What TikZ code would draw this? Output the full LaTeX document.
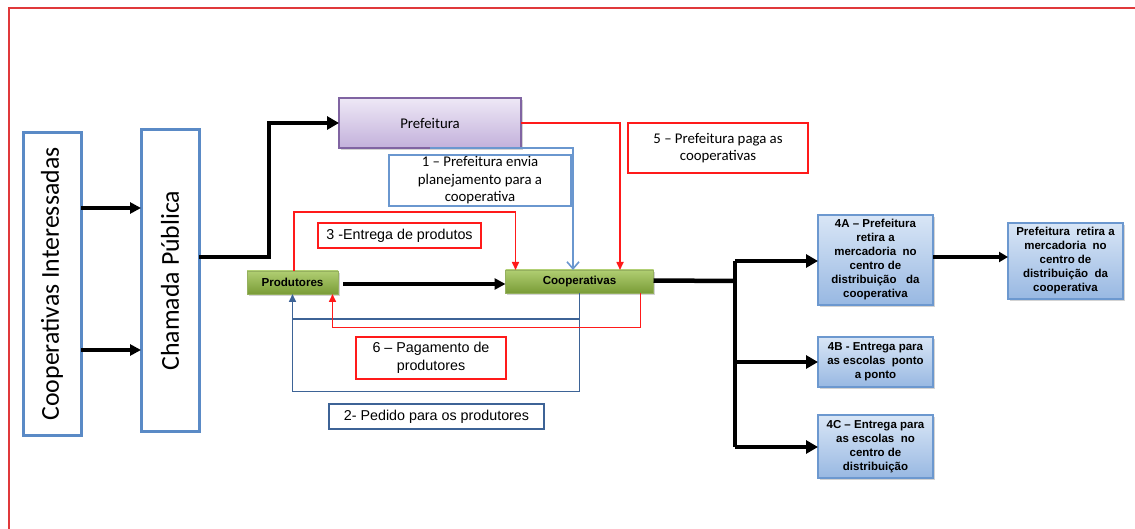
\documentclass[tikz,border=0pt]{standalone}
\usepackage{fontspec}
\newfontfamily\fcal{Carlito}
\newfontfamily\fari{Liberation Sans}
\usetikzlibrary{arrows.meta,calc,shadows}
\definecolor{frameR}{HTML}{E0393B}
\definecolor{boxB}{HTML}{5A8AC6}
\definecolor{lblB}{HTML}{6A97CF}
\definecolor{darkB}{HTML}{3D6396}
\definecolor{redL}{HTML}{FF1A1A}
\definecolor{purB}{HTML}{8064A2}
\definecolor{purT}{HTML}{EEE8F6}
\definecolor{purD}{HTML}{C3B1DB}
\definecolor{grT}{HTML}{B0CE72}
\definecolor{grD}{HTML}{7A9C37}
\definecolor{blT}{HTML}{D9E6F6}
\definecolor{blD}{HTML}{98B8E2}
\definecolor{blBd}{HTML}{6C98CF}
\begin{document}
\begin{tikzpicture}[x=1pt,y=-1pt,
  every node/.style={inner sep=0pt, outer sep=0pt},
  bigbox/.style={draw=boxB, line width=3, fill=white},
  redlbl/.style={draw=redL, line width=1.3, fill=white, font=\fari\fontsize{14.3}{18}\selectfont, align=center},
  calred/.style={draw=redL, line width=1.3, fill=white, font=\fcal\fontsize{14.8}{17}\selectfont, align=center},
  blulbl/.style={draw=lblB, line width=1.3, fill=white, font=\fcal\fontsize{14.8}{17.5}\selectfont, align=center},
  dblulbl/.style={draw=darkB, line width=1.3, fill=white, font=\fari\fontsize{14.3}{17}\selectfont, align=center},
  purbox/.style={draw=purB, line width=1.2, top color=purT, bottom color=purD, font=\fcal\fontsize{14.8}{16}\selectfont, drop shadow={shadow xshift=1.5pt, shadow yshift=-2pt, opacity=0.35}},
  grbox/.style={draw=grD!80!white, line width=0.6, top color=grT, bottom color=grD, font=\fari\bfseries\fontsize{11.6}{13}\selectfont, drop shadow={shadow xshift=1.5pt, shadow yshift=-2.5pt, opacity=0.35}},
  blbox/.style={draw=blBd, line width=1.2, top color=blT, bottom color=blD, align=center, font=\fari\bfseries\fontsize{11.5}{14}\selectfont, drop shadow={shadow xshift=1.5pt, shadow yshift=-2pt, opacity=0.35}},
  bigarr/.style={line width=4.5, -{Triangle[length=12pt,width=13pt]}},
  medarr/.style={line width=3.5, -{Triangle[length=11pt,width=11pt]}},
  smarr/.style={line width=3.2, -{Triangle[length=9pt,width=10pt]}},
  redarr/.style={draw=redL, line width=1.6, -{Triangle[length=8pt,width=7pt]}},
  bluarr/.style={draw=lblB, line width=1.6, -{Straight Barb[length=7pt,width=12pt]}},
  dbluarr/.style={draw=darkB, line width=1.6, -{Triangle[length=8pt,width=7pt]}},
]
\useasboundingbox (0,0) rectangle (1135,529);
\draw[frameR, line width=1.3] (1140,8) -- (9,8) -- (9,540);

% left boxes
\node[bigbox, minimum width=58, minimum height=302, font=\fcal\fontsize{25.8}{28}\selectfont] (ci) at (52,284) {\rotatebox{90}{Cooperativas Interessadas}};
\node[bigbox, minimum width=58, minimum height=301, font=\fcal\fontsize{25.8}{28}\selectfont] (cp) at (170,280.5) {\rotatebox{90}{Chamada Pública}};

% main nodes
\node[purbox, minimum width=182, minimum height=50] (pref) at (430,123) {Prefeitura};
\node[grbox, minimum width=91, minimum height=23] (prod) at (292.5,282.5) {Produtores};
\node[grbox, minimum width=148, minimum height=23] (coops) at (579.5,281.5) {Cooperativas};

% labels
\node[blulbl, minimum width=182, minimum height=51] (l1) at (480,180.5) {1 – Prefeitura envia\\planejamento para a\\cooperativa};
\node[calred, minimum width=180, minimum height=50] (l5) at (718,148) {5 – Prefeitura paga as\\cooperativas};
\node[redlbl, minimum width=163, minimum height=25] (l3) at (399.5,235.5) {3 -Entrega de produtos};
\node[redlbl, minimum width=150, minimum height=42] (l6) at (431,358) {6 – Pagamento de\\produtores};
\node[dblulbl, minimum width=215, minimum height=25] (l2) at (436.5,416.5) {2- Pedido para os produtores};

% right boxes
\node[blbox, minimum width=115, minimum height=90] (a4) at (875.5,260) {4A – Prefeitura\\retira a\\mercadoria\ \ no\\centro de\\distribuição\ \ \ da\\cooperativa};
\node[blbox, minimum width=115, minimum height=50] (b4) at (875.5,362) {4B - Entrega para\\as escolas\ \ ponto\\a ponto};
\node[blbox, minimum width=115, minimum height=63] (c4) at (875.5,446.5) {4C – Entrega para\\as escolas\ \ no\\centro de\\distribuição};
\node[blbox, minimum width=115, minimum height=76] (rr) at (1065.5,261) {Prefeitura\ \ retira a\\mercadoria\ \ no\\centro de\\distribuição\ \ da\\cooperativa};

% black connectors
\draw[medarr] (ci.east |- 0,208) -- (cp.west |- 0,208);
\draw[medarr] (ci.east |- 0,350) -- (cp.west |- 0,350);
\draw[bigarr] (cp.east |- 0,257) -| ($(pref.west)+(-70,0)$) -- (pref.west);
\draw[medarr] ($(prod.east)+(5,1.5)$) -- ($(coops.west)+(0,2.5)$);
\coordinate (jn) at (735,281);
\draw[line width=4.5] ($(coops.east)+(0,-1)$) -- (jn);
\draw[line width=4.5] (735,261) -- (735,447);
\draw[bigarr] (735,261) -- (a4.west |- 0,261);
\draw[bigarr] (735,362) -- (b4.west |- 0,362);
\draw[bigarr] (735,447) -- (c4.west |- 0,447);
\draw[smarr] (a4.east |- 0,257) -- (rr.west |- 0,257);

% coloured connectors
\draw[bluarr] (pref.south) -| ($(coops.north)+(-6.5,0)$);
\draw[redarr] (pref.east) -| ($(coops.north)+(40.5,0)$);
\draw[redarr] ($(prod.north)+(1.5,0)$) -- ++(0,-59) -| ($(coops.north west)+(10,0)$);
\draw[dbluarr] (coops.south) -- ++(0,98.5) -| (prod.south);
\draw[draw=darkB, line width=1.6] (prod.south |- 0,319) -- (coops.south |- 0,319);
\draw[redarr] ($(coops.south)+(61,0)$) -- ++(0,34.5) -| ($(prod.south)+(40,0)$);
\end{tikzpicture}
\end{document}
